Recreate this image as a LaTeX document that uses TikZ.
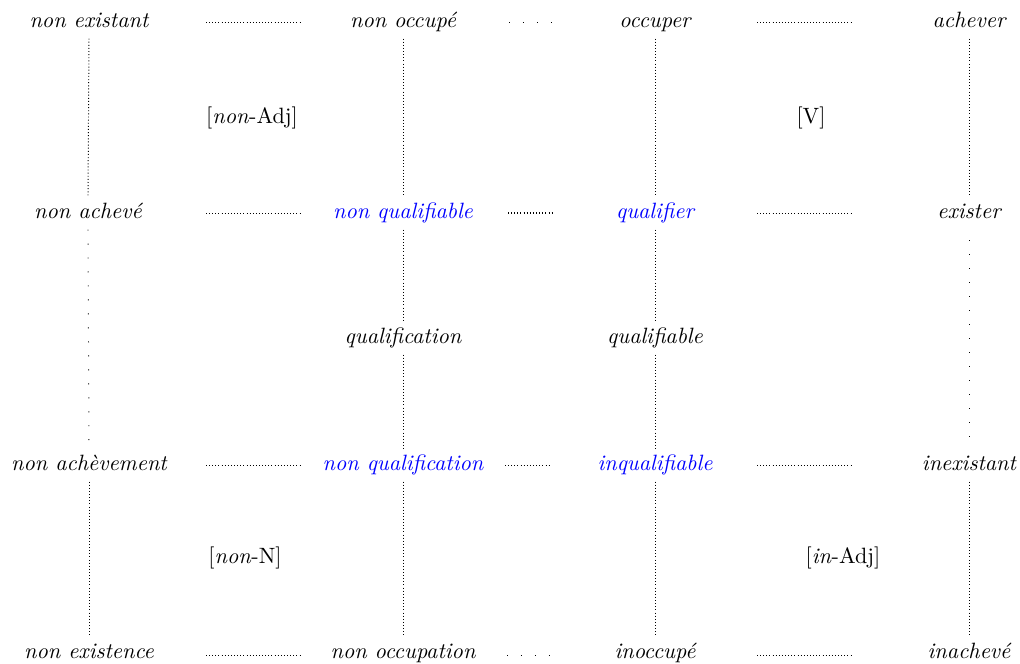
\documentclass[tikz,border=0pt]{standalone}
\begin{document}
\begin{tikzpicture}[x=0.465pt,y=-0.465pt,
  every node/.style={font=\fontsize{10.3}{12}\selectfont},
  word/.style={inner sep=3pt,text height=7pt,text depth=2pt,font=\fontsize{10.3}{12}\selectfont\itshape},
  hl/.style={word,text=blue},
  lbl/.style={inner sep=2pt},
  dense/.style={line width=0.45pt,dash pattern=on 0.45pt off 1pt},
  loose/.style={line width=0.45pt,dash pattern=on 0.45pt off 6.05pt}]
\useasboundingbox (0,0) rectangle (1020,663);
% row 1
\node[word] (a1) at (89,22) {non existant};
\node[word] (b1) at (403,22) {non occupé};
\node[word] (c1) at (655,22) {occuper};
\node[word] (d1) at (969,22) {achever};
% row 2 labels
\node[lbl] (l1) at (252,118) {[\textit{non}-Adj]};
\node[lbl] (l2) at (811,118) {[V]};
% row 3
\node[word] (a3) at (88,213) {non achevé};
\node[hl] (b3) at (403,213) {non qualifiable};
\node[hl] (c3) at (655,213) {qualifier};
\node[word] (d3) at (969,213) {exister};
% row 4
\node[word] (b4) at (403,338) {qualification};
\node[word] (c4) at (655,338) {qualifiable};
% row 5
\node[word] (a5) at (89,465) {non achèvement};
\node[hl] (b5) at (403,465) {non qualification};
\node[hl] (c5) at (655,465) {inqualifiable};
\node[word] (d5) at (969,465) {inexistant};
% row 6 labels
\node[lbl] (l3) at (245,558) {[\textit{non}-N]};
\node[lbl] (l4) at (843,558) {[\textit{in}-Adj]};
% row 7
\node[word] (a7) at (89,653) {non existence};
\node[word] (b7) at (403,653) {non occupation};
\node[word] (c7) at (655,653) {inoccupé};
\node[word] (d7) at (969,653) {inachevé};
% vertical connectors
\draw[dense] (a1.south) -- (a3.north);
\draw[loose] (a3.south) -- (a5.north);
\draw[dense] (a5.south) -- (a7.north);
\draw[dense] (b1.south) -- (b3.north);
\draw[dense] (b3.south) -- (b4.north);
\draw[dense] (b4.south) -- (b5.north);
\draw[dense] (b5.south) -- (b7.north);
\draw[dense] (c1.south) -- (c3.north);
\draw[dense] (c3.south) -- (c4.north);
\draw[dense] (c4.south) -- (c5.north);
\draw[dense] (c5.south) -- (c7.north);
\draw[dense] (d1.south) -- (d3.north);
\draw[loose,shorten <=5pt] (d3.south) -- (d5.north);
\draw[dense] (d5.south) -- (d7.north);
% horizontal connectors
\foreach \r/\y in {1/22,3/213,5/465,7/655}{
  \coordinate (p\r a) at (206,\y);
  \coordinate (p\r b) at (300,\y);
  \coordinate (q\r a) at (757,\y);
  \coordinate (q\r b) at (852,\y);
  \draw[dense] (p\r a) -- (p\r b);
  \draw[dense] (q\r a) -- (q\r b);
}
\coordinate (m1a) at (509,22);
\coordinate (m1b) at (554,22);
\coordinate (m3a) at (508,213);
\coordinate (m3b) at (552,213);
\coordinate (m5a) at (505,465);
\coordinate (m5b) at (551,465);
\coordinate (m7a) at (507,655);
\coordinate (m7b) at (552,655);
\draw[loose] (m1a) -- (m1b);
\draw[dense,line width=0.55pt] (m3a) -- (m3b);
\draw[dense] (m5a) -- (m5b);
\draw[loose] (m7a) -- (m7b);
\end{tikzpicture}
\end{document}
